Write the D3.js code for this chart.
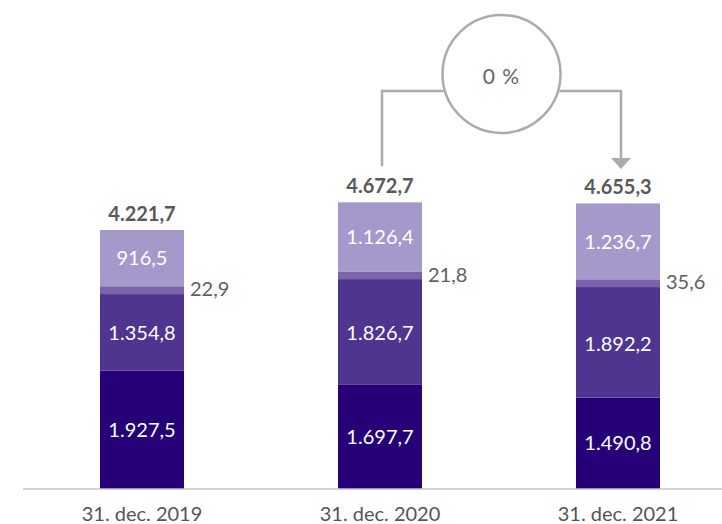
<!DOCTYPE html>
<html>
<head>
<meta charset="utf-8">
<script src="https://cdn.jsdelivr.net/npm/d3@7"></script>
<style>
  body { margin: 0; background: #fff; }
  svg text { font-family: Lato, "Open Sans", sans-serif; }
</style>
</head>
<body>
<div id="chart"></div>
<script>
// data
const categories = ["31. dec. 2019", "31. dec. 2020", "31. dec. 2021"];
const seriesBottom = [1927.5, 1697.7, 1490.8];
const seriesMiddle = [1354.8, 1826.7, 1892.2];
const seriesThin = [22.9, 21.8, 35.6];
const seriesTop = [916.5, 1126.4, 1236.7];
const totalLabels = ["4.221,7", "4.672,7", "4.655,3"];
const changeLabel = "0 %";

const seriesList = [seriesBottom, seriesMiddle, seriesThin, seriesTop];
const colors = ["#250077", "#4f3490", "#7c64ab", "#a598ca"];

const W = 722, H = 524;
const baseY = 489;
const fontSize = "20px";

const fmt = v => {
  const s = v.toFixed(1).split(".");
  const intPart = s[0].replace(/\B(?=(\d{3})+(?!\d))/g, ".");
  return intPart + "," + s[1];
};

const svg = d3.select("#chart").append("svg")
  .attr("width", W).attr("height", H);

const x = d3.scaleBand()
  .domain(categories)
  .range([23, 737])
  .paddingInner(0.647)
  .paddingOuter(0.3235);

const y = d3.scaleLinear()
  .domain([0, 5000])
  .range([baseY, baseY - 306.75]);

// stack
const rows = categories.map((c, i) => {
  const o = { cat: c };
  seriesList.forEach((s, k) => o["s" + k] = s[i]);
  return o;
});
const stack = d3.stack().keys(seriesList.map((s, k) => "s" + k))(rows);

// bars
stack.forEach((layer, k) => {
  svg.append("g")
    .selectAll("rect")
    .data(layer)
    .enter()
    .append("rect")
      .attr("x", d => x(d.data.cat))
      .attr("y", d => y(d[1]))
      .attr("width", x.bandwidth())
      .attr("height", d => k === 2 ? Math.max(8, y(d[0]) - y(d[1])) : y(d[0]) - y(d[1]))
      .attr("fill", colors[k]);
});

// labels inside bars
[0, 1, 3].forEach(k => {
  svg.append("g")
    .selectAll("text")
    .data(stack[k])
    .enter()
    .append("text")
      .attr("x", d => x(d.data.cat) + x.bandwidth() / 2)
      .attr("y", d => {
        let top = y(d[1]);
        if (k === 1) top += 8; // thin band drawn over the middle one
        return (top + y(d[0])) / 2;
      })
      .attr("dy", "0.36em")
      .attr("text-anchor", "middle")
      .attr("fill", "#fff")
      .style("font-size", fontSize)
      .text(d => fmt(d[1] - d[0]));
});

// thin series labels at the side
svg.append("g")
  .selectAll("text")
  .data(stack[2])
  .enter()
  .append("text")
    .attr("x", d => x(d.data.cat) + x.bandwidth() + 6)
    .attr("y", d => y(d[1]) + 3)
    .attr("dy", "0.36em")
    .attr("fill", "#606060")
    .style("font-size", fontSize)
    .text(d => fmt(d[1] - d[0]));

// totals
svg.append("g")
  .selectAll("text")
  .data(stack[3])
  .enter()
  .append("text")
    .attr("x", d => x(d.data.cat) + x.bandwidth() / 2)
    .attr("y", d => y(d[1]) - 9)
    .attr("text-anchor", "middle")
    .attr("fill", "#595959")
    .style("font-size", fontSize)
    .style("font-weight", "bold")
    .text((d, i) => totalLabels[i]);

// baseline
svg.append("line")
  .attr("x1", 23).attr("x2", W)
  .attr("y1", baseY).attr("y2", baseY)
  .attr("stroke", "#c6c6c6")
  .attr("stroke-width", 1.5);

// x axis labels
const xAxis = svg.append("g")
  .attr("transform", `translate(0, ${baseY})`)
  .call(d3.axisBottom(x).tickSize(0).tickPadding(18));
xAxis.select(".domain").remove();
xAxis.selectAll("text")
  .attr("fill", "#555")
  .style("font-size", fontSize)
  .style("font-family", "Lato, 'Open Sans', sans-serif");

// change connector 2020 -> 2021
const x2 = x(categories[1]) + x.bandwidth() / 2 + 2;
const x3 = x(categories[2]) + x.bandwidth() / 2 + 3;
const lineY = 91;
const cx = (x2 + x3) / 2, cy = 74, r = 59;
const grey = "#ababab";

svg.append("path")
  .attr("d", `M${x2},${y(d3.sum(seriesList, s => s[1])) - 36} V${lineY} H${cx - r + 1}`)
  .attr("fill", "none").attr("stroke", grey).attr("stroke-width", 2.5);
svg.append("path")
  .attr("d", `M${cx + r - 1},${lineY} H${x3} V${159}`)
  .attr("fill", "none").attr("stroke", grey).attr("stroke-width", 2.5);
svg.append("path")
  .attr("d", `M${x3 - 10},158 L${x3 + 10},158 L${x3},169 Z`)
  .attr("fill", grey);
svg.append("circle")
  .attr("cx", cx).attr("cy", cy).attr("r", r)
  .attr("fill", "#fff").attr("stroke", grey).attr("stroke-width", 2.5);
svg.append("text")
  .attr("x", cx).attr("y", cy + 2)
  .attr("dy", "0.36em")
  .attr("text-anchor", "middle")
  .attr("fill", "#666")
  .style("font-size", "21px")
  .style("letter-spacing", "1px")
  .text(changeLabel);
</script>
</body>
</html>
